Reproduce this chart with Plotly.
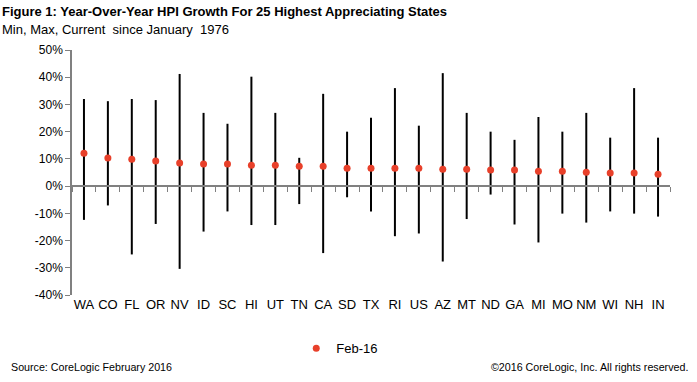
import plotly.graph_objects as go

states = ["WA","CO","FL","OR","NV","ID","SC","HI","UT","TN","CA","SD","TX",
          "RI","US","AZ","MT","ND","GA","MI","MO","NM","WI","NH","IN"]
max_vals = [32.0,31.2,32.0,31.6,41.2,26.9,22.9,40.2,26.9,10.4,33.9,20.0,25.1,
            36.0,22.2,41.5,26.9,20.0,17.0,25.4,20.0,26.9,17.8,36.0,17.8]
min_vals = [-12.4,-7.1,-25.1,-13.9,-30.4,-16.7,-9.3,-14.3,-14.3,-6.6,-24.6,-4.1,-9.3,
            -18.4,-17.4,-27.7,-12.1,-3.1,-14.1,-20.7,-10.1,-13.4,-9.3,-10.1,-11.2]
current = [12.1,10.3,9.9,9.2,8.5,8.1,8.1,7.7,7.7,7.3,7.3,6.6,6.6,
           6.6,6.6,6.2,6.2,5.9,5.9,5.5,5.5,5.1,4.8,4.8,4.4]
y_ticks = [-40,-30,-20,-10,0,10,20,30,40,50]

FONT = "Liberation Sans, Arial, sans-serif"

lx, ly = [], []
for s, lo, hi in zip(states, min_vals, max_vals):
    lx += [s, s, None]
    ly += [lo, hi, None]

fig = go.Figure()
fig.add_trace(go.Scatter(x=lx, y=ly, mode="lines", line=dict(color="black", width=2),
                         showlegend=False, hoverinfo="skip"))
fig.add_trace(go.Scatter(x=states, y=current, mode="markers", name="Feb-16",
                         marker=dict(color="#E8402A", size=7)))
# axis at zero with boundary ticks
fig.add_trace(go.Scatter(x=states, y=[None]*len(states), xaxis="x2", showlegend=False,
                         hoverinfo="skip"))

zero_pos = (0 - y_ticks[0]) / (y_ticks[-1] - y_ticks[0])

fig.update_layout(
    width=697, height=382,
    margin=dict(l=72, r=27, t=50, b=87),
    plot_bgcolor="white", paper_bgcolor="white",
    font=dict(family=FONT, size=12, color="black"),
    xaxis=dict(categoryorder="array", categoryarray=states, showline=False, ticks="",
               showgrid=False, zeroline=False, tickfont=dict(size=13), ticklabelstandoff=0,
               range=[-0.5, len(states) - 0.5]),
    xaxis2=dict(overlaying="x", anchor="free", position=zero_pos, side="bottom",
                categoryorder="array", categoryarray=states, showticklabels=False,
                showline=True, linecolor="#808080", linewidth=1.5, ticks="outside",
                tickson="boundaries", ticklen=5, tickcolor="#808080", tickwidth=1,
                showgrid=False, zeroline=False, range=[-0.5, len(states) - 0.5]),
    yaxis=dict(range=[y_ticks[0], y_ticks[-1]], tickvals=y_ticks,
               ticktext=[f"{v}%" for v in y_ticks], showline=True, linecolor="#808080",
               linewidth=1.5, ticks="outside", ticklen=5, tickcolor="#808080",
               showgrid=False, zeroline=False, tickfont=dict(size=12)),
    legend=dict(orientation="h", x=0.375, xanchor="left", y=-0.218, yanchor="middle",
                font=dict(size=13), itemwidth=30, bgcolor="rgba(0,0,0,0)"),
    showlegend=True,
)

fig.add_annotation(text="<b>Figure 1: Year-Over-Year HPI Growth For 25 Highest Appreciating States</b>",
                   xref="paper", yref="paper", x=-72/598, y=1 + (50 - 12) / 245,
                   xanchor="left", yanchor="middle", showarrow=False,
                   font=dict(size=13, family=FONT))
fig.add_annotation(text="Min, Max, Current  since January  1976",
                   xref="paper", yref="paper", x=-72/598, y=1 + (50 - 29) / 245,
                   xanchor="left", yanchor="middle", showarrow=False,
                   font=dict(size=13, family=FONT))
fig.add_annotation(text="Source: CoreLogic February 2016",
                   xref="paper", yref="paper", x=-63/598, y=-(367 - 295) / 245,
                   xanchor="left", yanchor="middle", showarrow=False,
                   font=dict(size=10.7, family=FONT))
fig.add_annotation(text="©2016 CoreLogic, Inc. All rights reserved.",
                   xref="paper", yref="paper", x=1 + 20/598, y=-(367 - 295) / 245,
                   xanchor="right", yanchor="middle", showarrow=False,
                   font=dict(size=10.7, family=FONT))

fig.write_html("out.html", config={"displayModeBar": False},
               post_script="document.body.style.margin='0px';")
